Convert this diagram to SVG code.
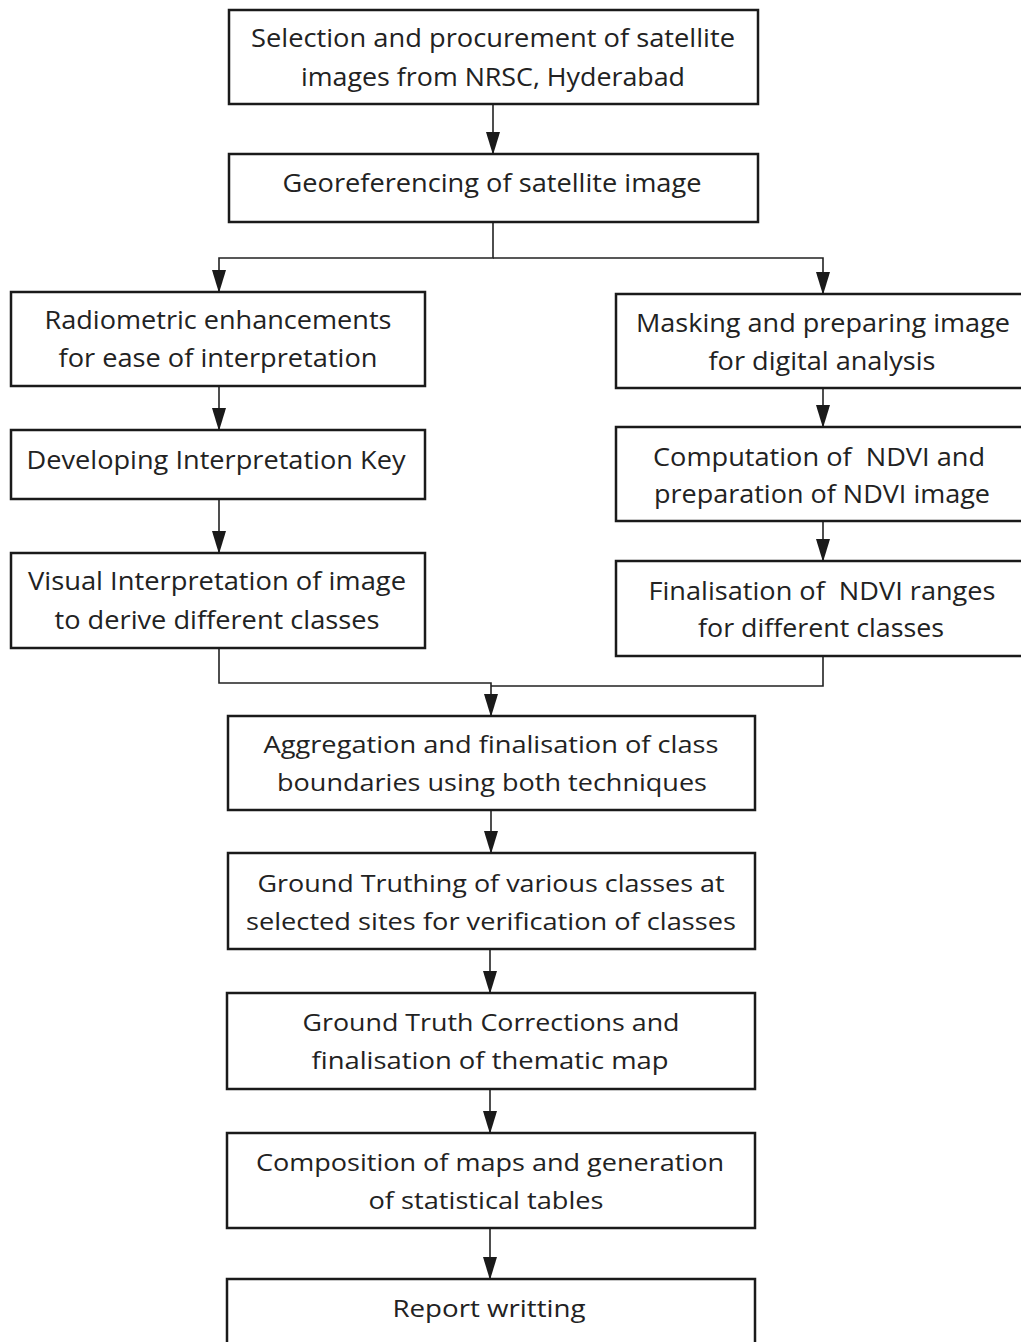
<svg xmlns="http://www.w3.org/2000/svg" width="1021" height="1342" viewBox="0 0 1021 1342">
<defs>
<style>
.box{fill:#fff;stroke:#1a1a1a;stroke-width:2.5}
.t{font-family:"Open Sans","Liberation Sans",sans-serif;font-size:25px;fill:#222;text-anchor:middle}
.t2{font-family:"Open Sans","DejaVu Sans",sans-serif;font-size:24px;fill:#222;text-anchor:middle}
.c{fill:none;stroke:#222;stroke-width:1.6}
</style>
<marker id="arr" markerUnits="userSpaceOnUse" markerWidth="24" markerHeight="16" refX="22" refY="8" orient="auto" viewBox="0 0 24 16">
<path d="M0,1 L23,8 L0,15 Z" fill="#1a1a1a"/>
</marker>
</defs>
<rect width="1021" height="1342" fill="#fff"/>
<g id="connectors">
<line class="c" x1="493" y1="104" x2="493" y2="154" marker-end="url(#arr)"/>
<polyline class="c" points="493,222 493,258 219,258 219,292" marker-end="url(#arr)"/>
<polyline class="c" points="493,258 823,258 823,294" marker-end="url(#arr)"/>
<line class="c" x1="219" y1="386" x2="219" y2="430" marker-end="url(#arr)"/>
<line class="c" x1="219" y1="499" x2="219" y2="553" marker-end="url(#arr)"/>
<line class="c" x1="823" y1="388" x2="823" y2="427" marker-end="url(#arr)"/>
<line class="c" x1="823" y1="521" x2="823" y2="561" marker-end="url(#arr)"/>
<polyline class="c" points="219,648 219,683 491,683 491,716" marker-end="url(#arr)"/>
<polyline class="c" points="823,656 823,686 491,686"/>
<line class="c" x1="491" y1="810" x2="491" y2="853" marker-end="url(#arr)"/>
<line class="c" x1="490" y1="949" x2="490" y2="993" marker-end="url(#arr)"/>
<line class="c" x1="490" y1="1089" x2="490" y2="1133" marker-end="url(#arr)"/>
<line class="c" x1="490" y1="1228" x2="490" y2="1279" marker-end="url(#arr)"/>
</g>
<g id="n1"><rect class="box" x="229" y="10" width="529" height="94"/>
<text class="t" x="493" y="47" textLength="484" lengthAdjust="spacingAndGlyphs">Selection and procurement of satellite</text>
<text class="t" x="493" y="86" textLength="384" lengthAdjust="spacingAndGlyphs">images from NRSC, Hyderabad</text></g>
<g id="n2"><rect class="box" x="229" y="154" width="529" height="68"/>
<text class="t" x="492" y="192" textLength="419" lengthAdjust="spacingAndGlyphs">Georeferencing of satellite image</text></g>
<g id="n3"><rect class="box" x="11" y="292" width="414" height="94"/>
<text class="t" x="218" y="329" textLength="347" lengthAdjust="spacingAndGlyphs">Radiometric enhancements</text>
<text class="t" x="218" y="367" textLength="319" lengthAdjust="spacingAndGlyphs">for ease of interpretation</text></g>
<g id="n4"><rect class="box" x="616" y="294" width="410" height="94"/>
<text class="t" x="823" y="332" textLength="374" lengthAdjust="spacingAndGlyphs">Masking and preparing image</text>
<text class="t" x="822" y="370" textLength="227" lengthAdjust="spacingAndGlyphs">for digital analysis</text></g>
<g id="n5"><rect class="box" x="11" y="430" width="414" height="69"/>
<text class="t" x="216" y="469" textLength="379" lengthAdjust="spacingAndGlyphs">Developing Interpretation Key</text></g>
<g id="n6"><rect class="box" x="11" y="553" width="414" height="95"/>
<text class="t" x="217" y="590" textLength="378" lengthAdjust="spacingAndGlyphs">Visual Interpretation of image</text>
<text class="t" x="217" y="629" textLength="325" lengthAdjust="spacingAndGlyphs">to derive different classes</text></g>
<g id="n7"><rect class="box" x="616" y="427" width="410" height="94"/>
<text class="t" x="819" y="466" textLength="332" lengthAdjust="spacingAndGlyphs" xml:space="preserve">Computation of  NDVI and</text>
<text class="t" x="822" y="503" textLength="336" lengthAdjust="spacingAndGlyphs">preparation of NDVI image</text></g>
<g id="n8"><rect class="box" x="616" y="561" width="410" height="95"/>
<text class="t" x="822" y="600" textLength="347" lengthAdjust="spacingAndGlyphs" xml:space="preserve">Finalisation of  NDVI ranges</text>
<text class="t" x="821" y="637" textLength="246" lengthAdjust="spacingAndGlyphs">for different classes</text></g>
<g id="n9"><rect class="box" x="228" y="716" width="527" height="94"/>
<text class="t2" x="491" y="753" textLength="455" lengthAdjust="spacingAndGlyphs">Aggregation and finalisation of class</text>
<text class="t2" x="492" y="791" textLength="430" lengthAdjust="spacingAndGlyphs">boundaries using both techniques</text></g>
<g id="n10"><rect class="box" x="228" y="853" width="527" height="96"/>
<text class="t2" x="491" y="892" textLength="467" lengthAdjust="spacingAndGlyphs">Ground Truthing of various classes at</text>
<text class="t2" x="491" y="930" textLength="490" lengthAdjust="spacingAndGlyphs">selected sites for verification of classes</text></g>
<g id="n11"><rect class="box" x="227" y="993" width="528" height="96"/>
<text class="t2" x="491" y="1031" textLength="377" lengthAdjust="spacingAndGlyphs">Ground Truth Corrections and</text>
<text class="t2" x="490" y="1069" textLength="357" lengthAdjust="spacingAndGlyphs">finalisation of thematic map</text></g>
<g id="n12"><rect class="box" x="227" y="1133" width="528" height="95"/>
<text class="t2" x="490" y="1171" textLength="468" lengthAdjust="spacingAndGlyphs">Composition of maps and generation</text>
<text class="t2" x="486" y="1209" textLength="235" lengthAdjust="spacingAndGlyphs">of statistical tables</text></g>
<g id="n13"><rect class="box" x="227" y="1279" width="528" height="80"/>
<text class="t2" x="489" y="1317" textLength="193" lengthAdjust="spacingAndGlyphs">Report writting</text></g>
</svg>
